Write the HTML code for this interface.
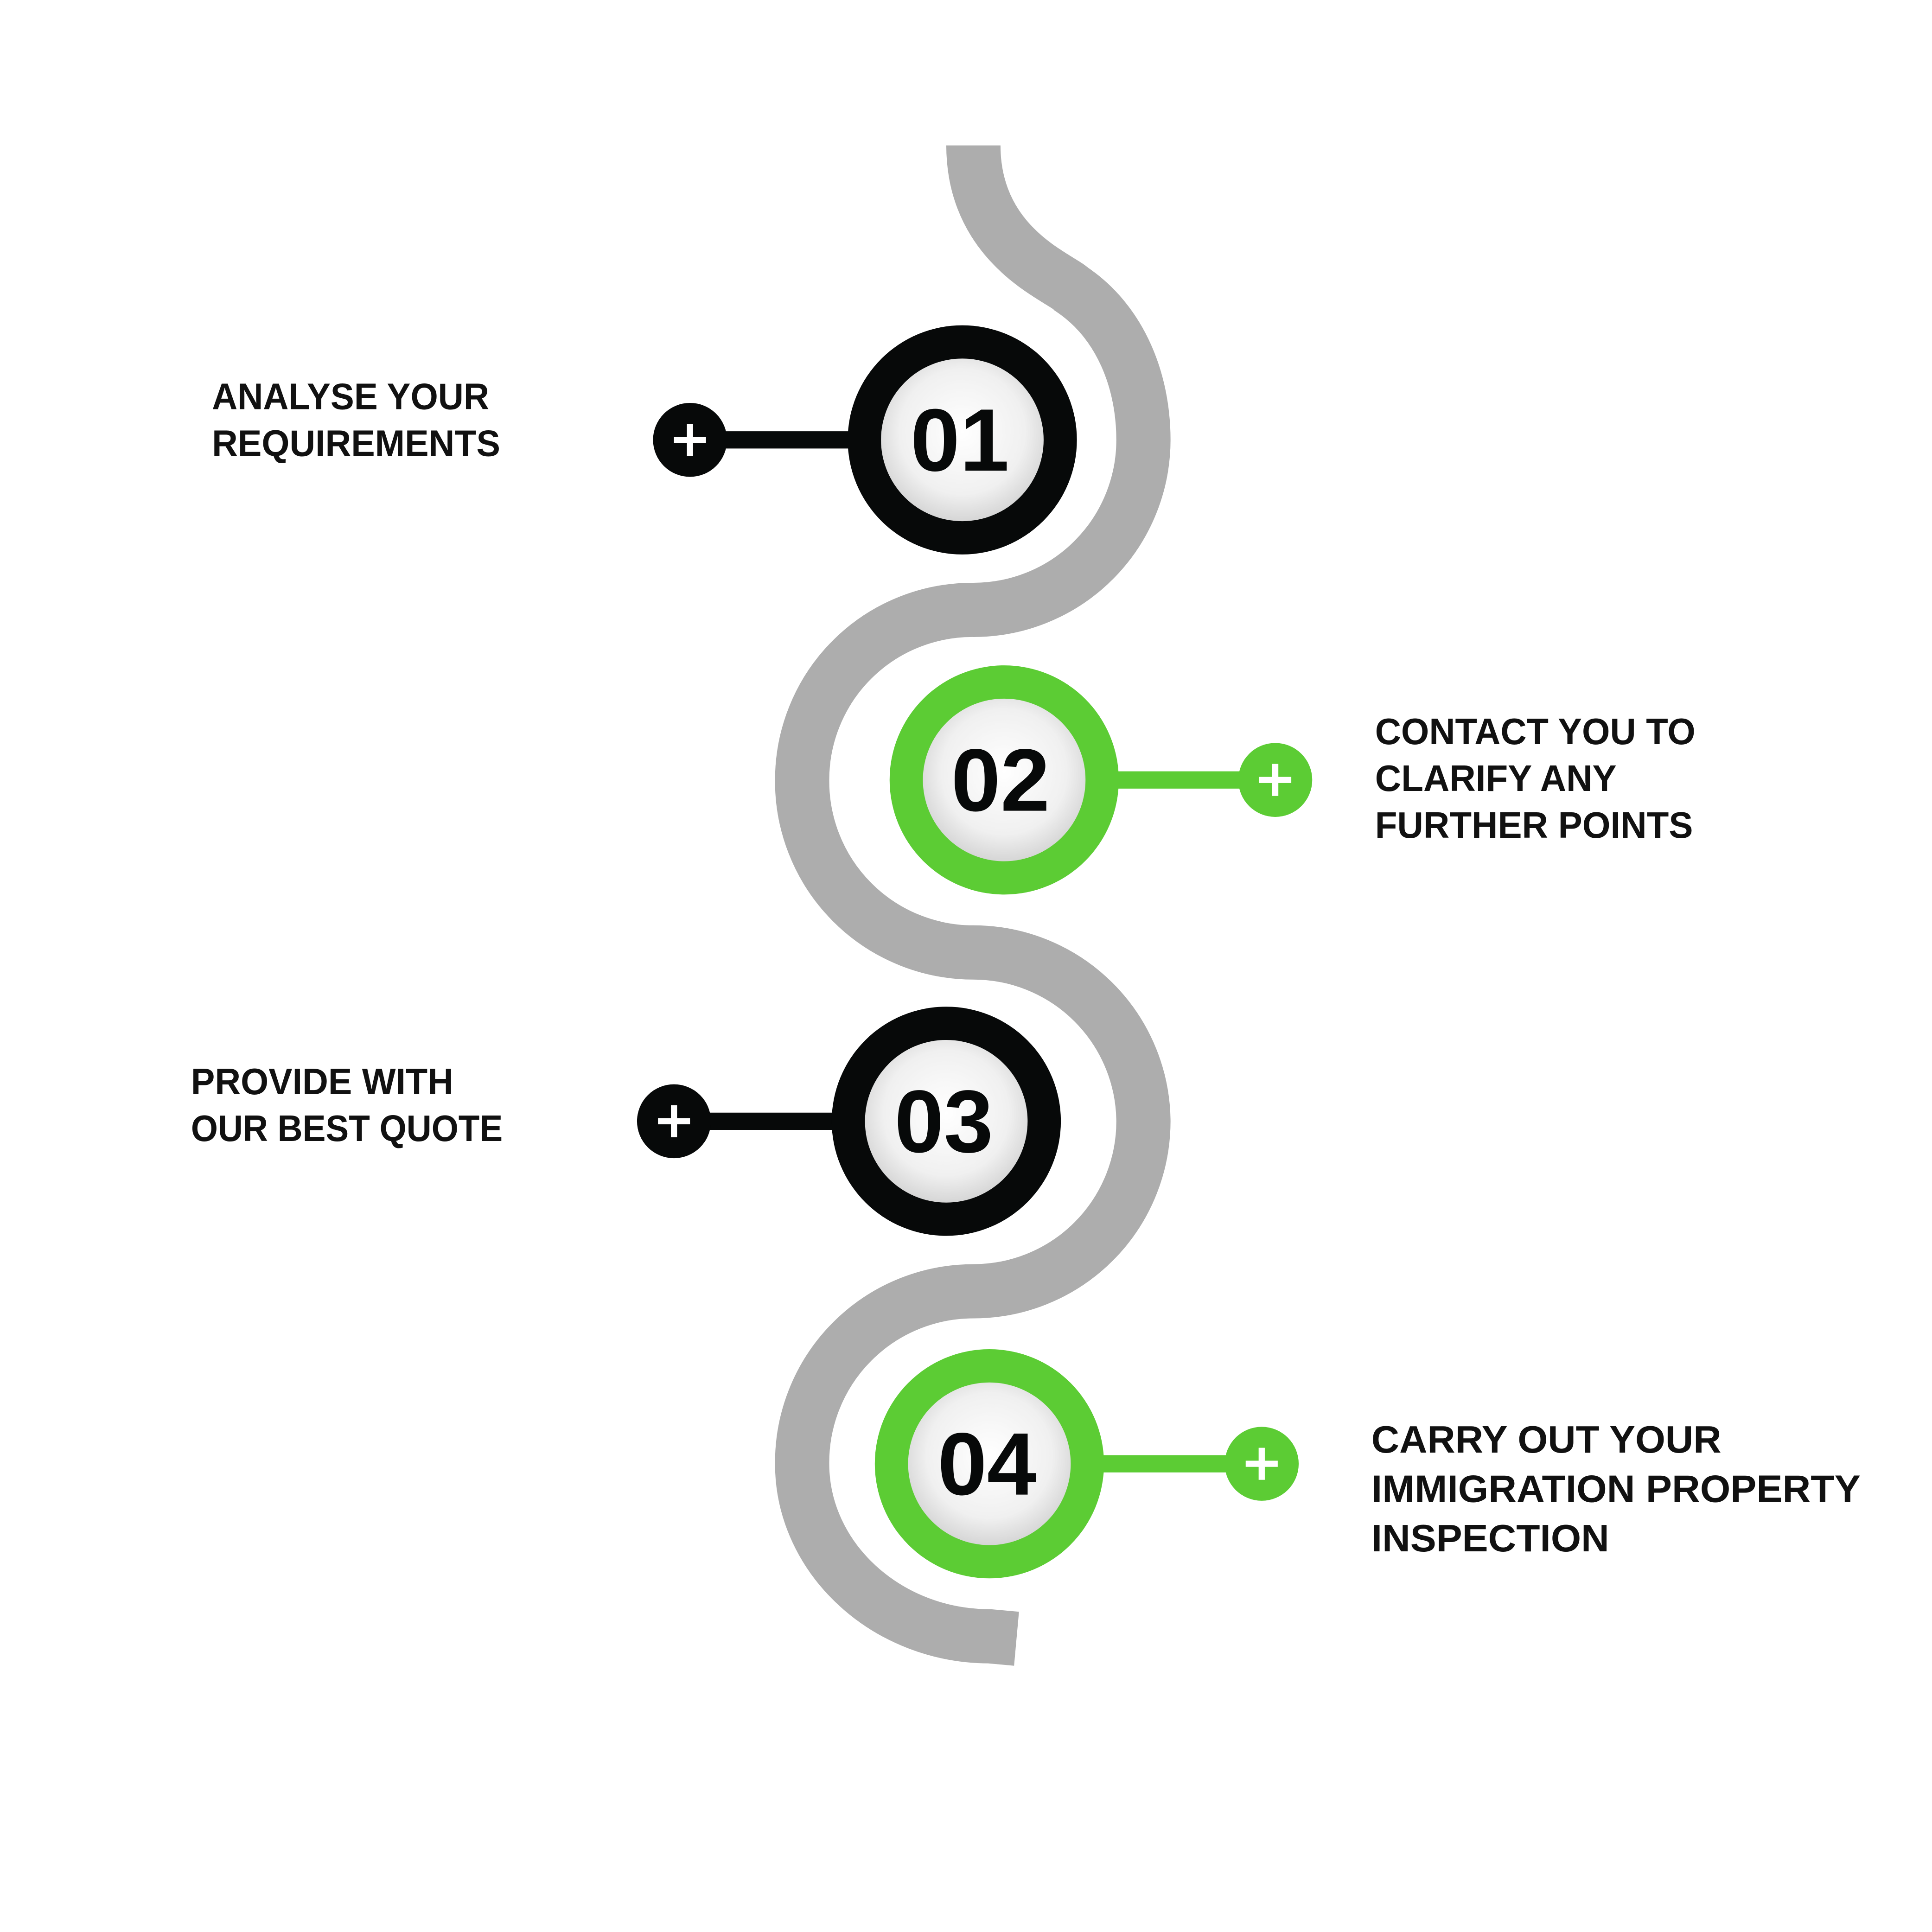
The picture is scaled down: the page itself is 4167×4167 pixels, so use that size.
<!DOCTYPE html>
<html><head><meta charset="utf-8"><style>
html,body{margin:0;padding:0;background:#fff;}
svg{display:block;}
</style></head><body>
<svg width="4167" height="4167" viewBox="0 0 1568 1568" xmlns="http://www.w3.org/2000/svg">
<defs>
<radialGradient id="g" cx="50%" cy="45%" r="55%">
<stop offset="0" stop-color="#ffffff"/><stop offset="0.7" stop-color="#f0f0f0"/><stop offset="1" stop-color="#d6d6d6"/>
</radialGradient>
</defs>
<rect width="1568" height="1568" fill="#fff"/>
<path d="M790,118 C790,200 860,225 870,235 C910,262 928,310 928,357 A138,138 0 0 1 790,495 A138,138 0 0 0 651,633 A139,139 0 0 0 790,773 A138,138 0 0 1 928,910 A138,138 0 0 1 790,1048 A139,139 0 0 0 651,1188 C651,1265 720,1328 803,1328 L825,1330" fill="none" stroke="#adadad" stroke-width="44"/>
<g font-family="Liberation Sans, sans-serif" font-weight="bold">
<line x1="560" y1="357" x2="700" y2="357" stroke="#070909" stroke-width="14"/>
<circle cx="560" cy="357" r="30" fill="#070909"/>
<path d="M547,357h26M560,344v26" stroke="#fff" stroke-width="5"/>
<circle cx="781" cy="357" r="93" fill="#070909"/>
<circle cx="781" cy="357" r="66" fill="url(#g)"/>
<text x="779" y="382" font-size="72" text-anchor="middle" fill="#070909">01</text>
<line x1="890" y1="633" x2="1035" y2="633" stroke="#5ccc34" stroke-width="14"/>
<circle cx="1035" cy="633" r="30" fill="#5ccc34"/>
<path d="M1022,633h26M1035,620v26" stroke="#fff" stroke-width="5"/>
<circle cx="815" cy="633" r="93" fill="#5ccc34"/>
<circle cx="815" cy="633" r="66" fill="url(#g)"/>
<text x="812" y="658" font-size="72" text-anchor="middle" fill="#070909">02</text>
<line x1="547" y1="910" x2="690" y2="910" stroke="#070909" stroke-width="14"/>
<circle cx="547" cy="910" r="30" fill="#070909"/>
<path d="M534,910h26M547,897v26" stroke="#fff" stroke-width="5"/>
<circle cx="768" cy="910" r="93" fill="#070909"/>
<circle cx="768" cy="910" r="66" fill="url(#g)"/>
<text x="766" y="935" font-size="72" text-anchor="middle" fill="#070909">03</text>
<line x1="880" y1="1188" x2="1024" y2="1188" stroke="#5ccc34" stroke-width="14"/>
<circle cx="1024" cy="1188" r="30" fill="#5ccc34"/>
<path d="M1011,1188h26M1024,1175v26" stroke="#fff" stroke-width="5"/>
<circle cx="803" cy="1188" r="93" fill="#5ccc34"/>
<circle cx="803" cy="1188" r="66" fill="url(#g)"/>
<text x="801" y="1213" font-size="72" text-anchor="middle" fill="#070909">04</text>
<g font-size="30" fill="#111" lengthAdjust="spacingAndGlyphs">
<text x="172" y="332" textLength="225" lengthAdjust="spacingAndGlyphs">ANALYSE YOUR</text>
<text x="172" y="370" textLength="234" lengthAdjust="spacingAndGlyphs">REQUIREMENTS</text>
<text x="1116" y="604" textLength="260" lengthAdjust="spacingAndGlyphs">CONTACT YOU TO</text>
<text x="1116" y="642" textLength="196" lengthAdjust="spacingAndGlyphs">CLARIFY ANY</text>
<text x="1116" y="680" textLength="258" lengthAdjust="spacingAndGlyphs">FURTHER POINTS</text>
<text x="155" y="888" textLength="213" lengthAdjust="spacingAndGlyphs">PROVIDE WITH</text>
<text x="155" y="926" textLength="253" lengthAdjust="spacingAndGlyphs">OUR BEST QUOTE</text>
</g>
<g font-size="31" fill="#111" font-weight="bold">
<text x="1113" y="1179" textLength="284" lengthAdjust="spacingAndGlyphs">CARRY OUT YOUR</text>
<text x="1113" y="1219" textLength="397" lengthAdjust="spacingAndGlyphs">IMMIGRATION PROPERTY</text>
<text x="1113" y="1259" textLength="193" lengthAdjust="spacingAndGlyphs">INSPECTION</text>
</g>
</g>
</svg>
</body></html>
